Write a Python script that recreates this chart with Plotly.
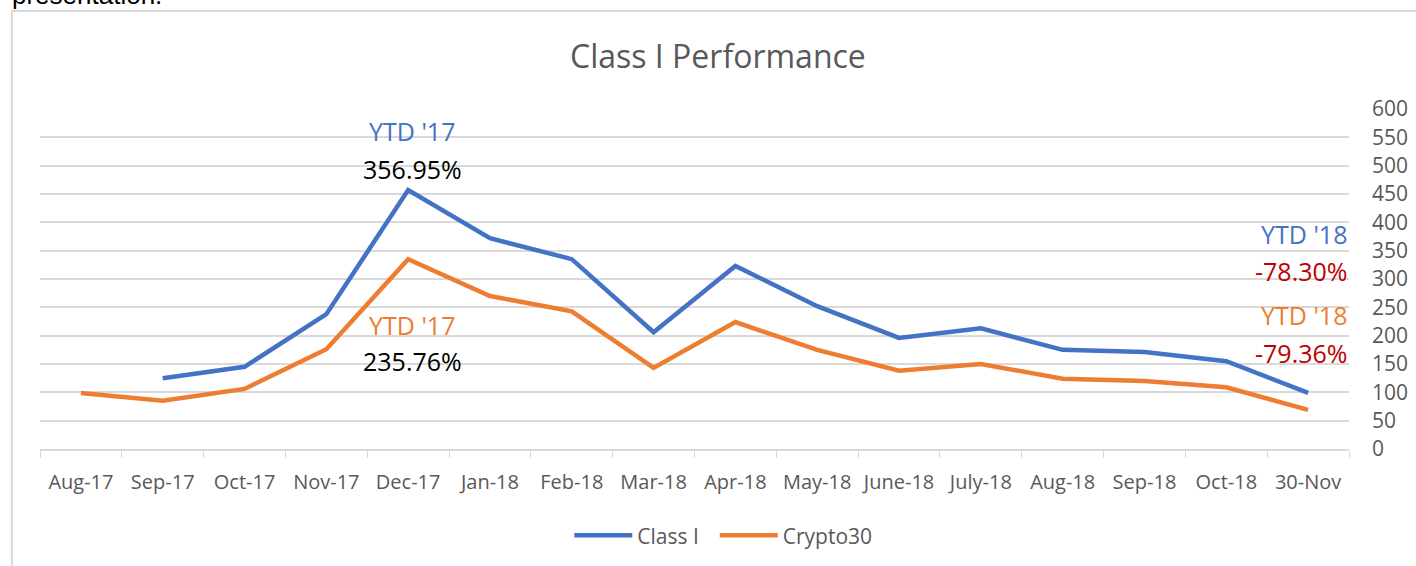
import plotly.graph_objects as go

categories = ["Aug-17", "Sep-17", "Oct-17", "Nov-17", "Dec-17", "Jan-18", "Feb-18", "Mar-18",
              "Apr-18", "May-18", "June-18", "July-18", "Aug-18", "Sep-18", "Oct-18", "30-Nov"]
class_i = [None, 125, 145, 238, 457, 372, 335, 206, 323, 252, 196, 213, 175, 171, 155, 99]
crypto30 = [99, 85, 106, 176, 335, 270, 243, 143, 224, 175, 138, 150, 124, 120, 109, 69]
y_ticks = list(range(0, 601, 50))

BLUE = "#4472C4"
ORANGE = "#ED7D31"
RED = "#C00000"
GRAY = "#595959"
FONT = "Open Sans"

fig = go.Figure()
fig.add_trace(go.Scatter(x=categories, y=class_i, mode="lines", name="Class I  ",
                         line=dict(color=BLUE, width=4.5), connectgaps=False))
fig.add_trace(go.Scatter(x=categories, y=crypto30, mode="lines", name="Crypto30",
                         line=dict(color=ORANGE, width=4.5)))

fig.update_layout(
    width=1416, height=566,
    margin=dict(l=40, r=67, t=109, b=117, autoexpand=False),
    paper_bgcolor="white", plot_bgcolor="white",
    font=dict(family=FONT, color=GRAY, size=19),
    title=dict(text="Class I Performance", x=0.507, xanchor="center", y=0.9, yanchor="middle",
               font=dict(size=32, color=GRAY, family=FONT)),
    showlegend=True,
    legend=dict(orientation="h", x=0.522, xanchor="center", y=-0.255, yanchor="middle",
                font=dict(size=21, color=GRAY), itemwidth=58, traceorder="normal"),
    xaxis=dict(type="category", showgrid=False, showline=True, linecolor="#D9D9D9", linewidth=1.5,
               ticks="outside", tickson="boundaries", ticklen=7, tickcolor="#D9D9D9",
               tickfont=dict(size=20, color=GRAY), range=[-0.5, 15.5], automargin=False,
               ticklabelstandoff=14),
    yaxis=dict(side="right", range=[0, 600], tickvals=y_ticks, showgrid=True,
               gridcolor="#D9D9D9", gridwidth=1.5, zeroline=False, showline=False,
               tickfont=dict(size=21, color=GRAY), ticklabelstandoff=22, automargin=False),
)

ann = [
    dict(x="Dec-17", y=561, text="YTD '17", color=BLUE),
    dict(x="Dec-17", y=495, text="356.95%", color="black"),
    dict(x="Dec-17", y=219, text="YTD '17", color=ORANGE),
    dict(x="Dec-17", y=155, text="235.76%", color="black"),
]
for a in ann:
    fig.add_annotation(x=a["x"], y=a["y"], text=a["text"], showarrow=False, xshift=4,
                       xref="x", yref="y", font=dict(size=25, color=a["color"], family=FONT))

right_ann = [
    (379, "YTD '18", BLUE),
    (314, "-78.30%", RED),
    (236, "YTD '18", ORANGE),
    (170, "-79.36%", RED),
]
for yv, t, c in right_ann:
    fig.add_annotation(x=1.0, xref="paper", y=yv, yref="y", xanchor="right", text=t,
                       showarrow=False, font=dict(size=25, color=c, family=FONT))

# outer frame of the embedded chart and the cut-off caption above it
fig.add_shape(type="rect", xref="paper", yref="paper", x0=-0.0215, x1=1.2, y0=-0.9, y1=1.2885,
              line=dict(color="#D9D9D9", width=2), layer="below")
fig.add_annotation(x=-0.0215, xref="paper", y=1.286, yref="paper", xanchor="left", yanchor="bottom",
                   text="presentation.", showarrow=False, xshift=-2,
                   font=dict(family="Liberation Sans", size=26, color="black"))

fig.write_html("out.html")
